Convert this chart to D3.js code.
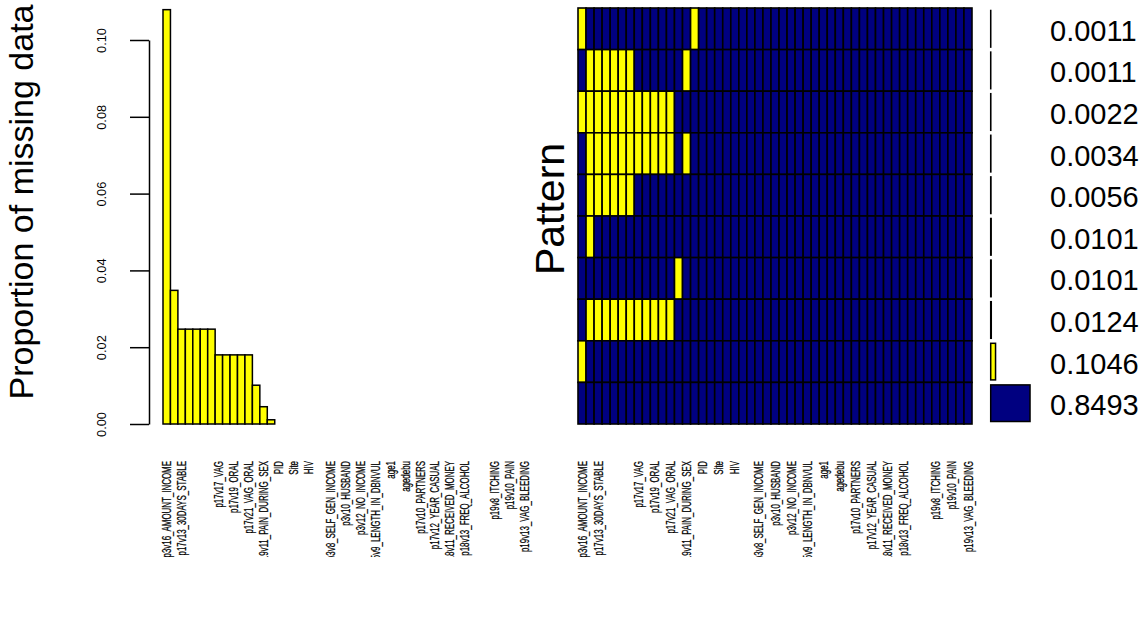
<!DOCTYPE html>
<html>
<head>
<meta charset="utf-8">
<script src="https://cdn.jsdelivr.net/npm/d3@7"></script>
<style>
  html, body { margin: 0; padding: 0; background: #fff; }
  svg { display: block; font-family: "Liberation Sans", Arial, Helvetica, sans-serif; }
</style>
</head>
<body>
<svg id="chart" width="1147" height="617"></svg>
<script>
// ---------- data ----------
// 49 variables (in plotted order); only labels that are printed in the figure are named
const varLabels = [
  "p3v16_AMOUNT_INCOME", "", "p17v13_30DAYS_STABLE", "", "", "", "", "p17v17_VAG", "",
  "p17v19_ORAL", "", "p17v21_VAG_ORAL", "", "p19v11_PAIN_DURING_SEX", "", "PID", "",
  "Site", "", "HIV", "", "", "p3v8_SELF_GEN_INCOME", "", "p3v10_HUSBAND", "",
  "p3v12_NO_INCOME", "", "p15v9_LENGTH_IN_DBNVUL", "", "age1", "", "agedebu", "",
  "p17v10_PARTNERS", "", "p17v12_YEAR_CASUAL", "", "p18v11_RECEIVED_MONEY", "",
  "p18v13_FREQ_ALCOHOL", "", "", "", "p19v8_ITCHING", "", "p19v10_PAIN", "",
  "p19v13_VAG_BLEEDING"
];
// proportion of missing values per variable
const missingProp = [
  0.1079, 0.0348, 0.0247, 0.0247, 0.0247, 0.0247, 0.0247,
  0.0180, 0.0180, 0.0180, 0.0180, 0.0180,
  0.0101, 0.0045, 0.0011,
  0, 0, 0, 0, 0, 0, 0, 0, 0, 0, 0, 0, 0, 0, 0, 0, 0, 0, 0,
  0, 0, 0, 0, 0, 0, 0, 0, 0, 0, 0, 0, 0, 0, 0
];
// missingness patterns (top to bottom): 1-based column indices that are missing
const patternMissing = [
  [1, 15],
  [2, 3, 4, 5, 6, 7, 14],
  [1, 2, 3, 4, 5, 6, 7, 8, 9, 10, 11, 12],
  [2, 3, 4, 5, 6, 7, 8, 9, 10, 11, 12, 14],
  [2, 3, 4, 5, 6, 7],
  [2],
  [13],
  [2, 3, 4, 5, 6, 7, 8, 9, 10, 11, 12],
  [1],
  []
];
const patternFreq = [0.0011, 0.0011, 0.0022, 0.0034, 0.0056, 0.0101, 0.0101, 0.0124, 0.1046, 0.8493];
const yTicks = [0, 0.02, 0.04, 0.06, 0.08, 0.10];

// ---------- setup ----------
const svg = d3.select("#chart");
const YELLOW = "#FFFF00", NAVY = "#000080";
const nVar = varLabels.length;
const idx = d3.range(nVar);

const xBar = d3.scaleBand().domain(idx).range([163, 528]).padding(0);
const xGrid = d3.scaleBand().domain(idx).range([578, 972]).padding(0);
const yBar = d3.scaleLinear().domain([0, 0.10]).range([424, 40]);
const yRow = d3.scaleBand().domain(d3.range(patternFreq.length)).range([8, 424]).padding(0);
const xFreq = d3.scaleLinear().domain([0, 1]).range([990.7, 1037]);

// clip for bottom labels
svg.append("defs").append("clipPath").attr("id", "labclip")
  .append("rect").attr("x", 0).attr("y", 440).attr("width", 1147).attr("height", 117);

// ---------- left: bar chart ----------
svg.append("g").selectAll("rect").data(missingProp).join("rect")
  .attr("x", (d, i) => xBar(i))
  .attr("width", xBar.bandwidth())
  .attr("y", d => yBar(d))
  .attr("height", d => yBar(0) - yBar(d))
  .attr("fill", YELLOW)
  .attr("stroke", "#000")
  .attr("stroke-width", 1.5);

const yAxis = svg.append("g")
  .attr("transform", "translate(149,0)")
  .call(d3.axisLeft(yBar).tickValues(yTicks).tickFormat(d3.format(".2f")).tickSize(19).tickSizeOuter(0));
yAxis.select(".domain").attr("stroke", "#000").attr("stroke-width", 1.5);
yAxis.selectAll(".tick line").attr("stroke", "#000").attr("stroke-width", 1.5);
yAxis.selectAll(".tick text")
  .attr("x", null).attr("dy", null)
  .attr("transform", "translate(-43,0) rotate(-90)")
  .attr("text-anchor", "middle")
  .attr("font-size", 12.8)
  .attr("font-family", "Liberation Sans, Arial, sans-serif")
  .attr("fill", "#000");

svg.append("text")
  .attr("transform", "translate(33,202) rotate(-90)")
  .attr("text-anchor", "middle")
  .attr("font-size", 34)
  .text("Proportion of missing data");

// ---------- right: pattern grid ----------
const cells = [];
patternMissing.forEach((miss, r) => {
  idx.forEach(c => cells.push({ r, c, missing: miss.includes(c + 1) }));
});
svg.append("g").selectAll("rect").data(cells).join("rect")
  .attr("x", d => xGrid(d.c))
  .attr("y", d => yRow(d.r))
  .attr("width", xGrid.bandwidth())
  .attr("height", yRow.bandwidth())
  .attr("fill", d => d.missing ? YELLOW : NAVY)
  .attr("stroke", "#000")
  .attr("stroke-width", 1.6);

svg.append("text")
  .attr("transform", "translate(564,209) rotate(-90)")
  .attr("text-anchor", "middle")
  .attr("font-size", 41)
  .text("Pattern");

// frequency bars
const fb = 0.88 * yRow.bandwidth();
svg.append("g").selectAll("rect").data(patternFreq).join("rect")
  .attr("x", xFreq(0))
  .attr("y", (d, i) => yRow(i) + (yRow.bandwidth() - fb) / 2)
  .attr("width", d => xFreq(d) - xFreq(0))
  .attr("height", fb)
  .attr("fill", (d, i) => patternMissing[i].length === 0 ? NAVY : YELLOW)
  .attr("stroke", "#000")
  .attr("stroke-width", 1.5);

svg.append("g").selectAll("text").data(patternFreq).join("text")
  .attr("x", 1050)
  .attr("y", (d, i) => yRow(i) + yRow.bandwidth() / 2 + 2)
  .attr("dominant-baseline", "central")
  .attr("font-size", 29)
  .text(d => d3.format(".4f")(d));

// ---------- bottom variable labels ----------
function drawLabels(xs) {
  svg.append("g").attr("clip-path", "url(#labclip)")
    .selectAll("text").data(idx.filter(i => varLabels[i] !== "")).join("text")
    .attr("transform", i => `translate(${xs(i) + xs.bandwidth() / 2},461) rotate(-90) scale(0.63,1)`)
    .attr("text-anchor", "end")
    .attr("dy", "0.36em")
    .attr("font-size", 12.6)
    .attr("stroke", "#000")
    .attr("stroke-width", 0.25)
    .text(i => varLabels[i]);
}
drawLabels(xBar);
drawLabels(xGrid);
</script>
</body>
</html>
